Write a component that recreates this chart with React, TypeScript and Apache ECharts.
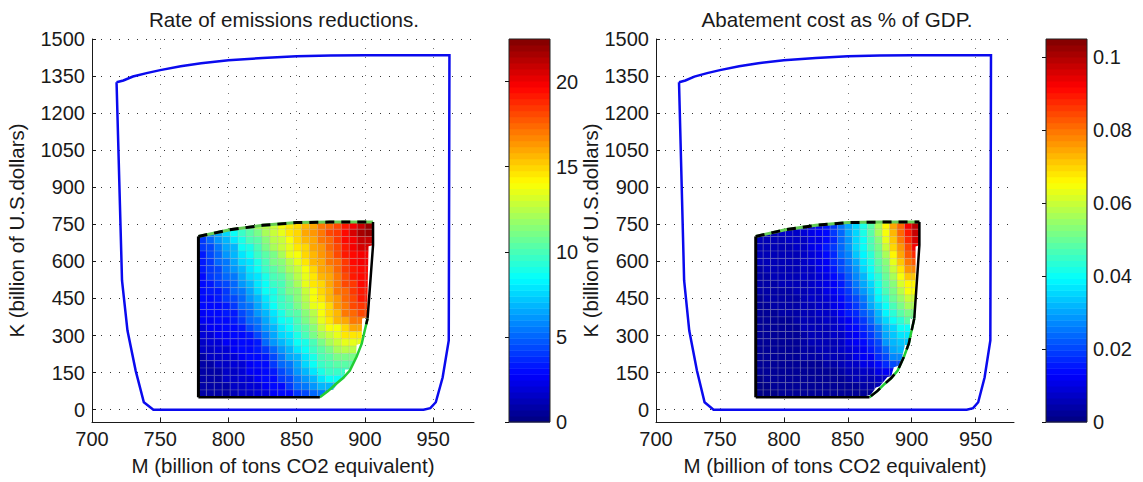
import React, { useEffect, useRef } from "react";
import * as echarts from "echarts";

const xTicks = [700, 750, 800, 850, 900, 950];
const yTicks = [0, 150, 300, 450, 600, 750, 900, 1050, 1200, 1350, 1500];
const barTicksA = [0, 5, 10, 15, 20];
const barTicksB = [0, 0.02, 0.04, 0.06, 0.08, 0.1];
const barMaxA = 22.5;
const barMaxB = 0.105;

const feasibleBoundary = [[718,1325],[723,1332],[730,1348],[740,1362],[750,1374],[765,1390],[780,1402],[800,1414],[825,1423],[850,1430],[875,1433],[900,1434],[962,1434],[961.5,280],[957,130],[952,30],[948,6],[943,0],[745,0],[738,30],[732,158],[726,320],[722,523],[718,1325]];
const topEdge = [[778,701],[801,728],[825,746],[850,757],[874,759],[906,759]];
const leftEdge = [[778,701],[778,50]];
const bottomEdge = [[778,50],[867,50]];
const upperRightEdge = [[906,759],[906,665],[902,369]];
const lowerRightEdge = [[902,369],[899.5,310],[897.7,267],[894,215],[889,158],[884,128],[879,105],[873,75],[867,50]];
const heatClipA = [[778,701],[801,728],[825,746],[850,757],[874,759],[906,759],[906,665],[902.7,661],[901.6,373],[898,369],[897.6,268],[893.9,263],[893.5,207],[892,199],[889,162],[885.5,162],[885,126],[881,113],[876.7,81],[873,77],[867,49],[778,49]];
const heatClipB = [[778,701],[801,728],[825,746],[850,757],[874,759],[906,759],[906,665],[903,660],[903,369],[898.7,369],[898.7,262],[894.7,262],[891,180],[886,172],[884,135],[881,132],[875,95],[872,90],[868,60],[860,49],[778,49]];

const gridMStart = 778;
const gridMStep = 128 / 22;
const gridKTop = 760;
const gridKStep = 710 / 24;

const emissionRate = [
[5,6,7,8,9,10,11,12,12.5,13,14,14.5,15,15.5,16,17,17.5,18,19,20,21,22],
[4.5,5.5,6.5,7.5,8.5,9.5,10.5,11,12,13,13.5,14.5,15,16,16.5,17,18,18.5,19.5,20.5,21.5,22],
[4,5,6,7,8,9,10,10.5,11.5,12.5,13,14,15,15.5,16,17,17.5,18.5,19.5,20,21,21],
[4,4.5,5.5,6.5,7,8.5,9,10,11,12,13,13.5,14.5,15,16,16.5,17.5,18,19,20,20.5,20.5],
[3.5,4.5,5,6,7,8,8.5,9.5,10.5,11,12,13.5,14,15,15.5,16.5,17,18,19,19.5,20,20],
[3.5,4,5,5.5,6.5,7.5,8,9,10,11,11.5,12.5,13.5,14.5,15.5,16,17,17.5,18.5,19.5,20,20],
[3.5,4,4.5,5.5,6,7,8,8.5,9.5,10.5,11,12,13,14,15,16,16.5,17.5,18.5,19,19.5,19.5],
[3,4,4.5,5,5.5,6.5,7.5,8,9,10,10.5,11.5,12.5,13.5,14.5,15.5,16,17,18,19,19.5,19.5],
[3,3.5,4,4.5,5,6,7,8,8.5,9.5,10,11,12,13.5,14.5,15,16,17,18,18.5,19.5,19.5],
[3,3.5,3.5,4,5,5.5,6.5,7.5,8.5,9,10,11,11.5,13,14,15,15.5,17,17.5,18.5,19,19],
[3,3,3.5,4,4.5,5,6,7,8,9,9.5,10.5,11.5,12.5,14,14.5,15.5,16.5,17.5,18,19,19],
[3,3,3,3.5,4,5,5.5,6.5,7.5,8.5,9.5,10,11,12,13.5,14,15,16.5,17,18,18.5,18.5],
[2.5,3,3,3.5,3.5,4.5,5,6,7,8,9,10,10.5,11.5,12.5,14,15,15.5,17,17.5,18,18],
[2.5,2.5,3,3,3.5,4,5,5.5,6.5,7.5,8.5,9,10,11,12,13.5,14.5,15.5,16,17,17,17],
[2,2.5,2.5,3,3,3.5,4.5,5,6,7,8,8.5,9.5,10.5,11.5,13,14,14,15,16,16,16],
[2,2,2.5,2.5,3,3,3.5,4.5,5.5,6.5,7.5,8,9,10,11,12,13,13.5,14.5,14.5,14.5,14.5],
[1.5,2,2,2.5,2.5,3,3,3.5,5,6,7,7.5,8.5,9,10,11,12,13,13.5,13.5,13.5,13.5],
[1.5,1.5,2,2,2.5,3,3,3.5,4,5,6,7,8,8.5,9.5,10.5,11,12,12.5,12.5,12.5,12.5],
[1,1.5,1.5,2,2,2.5,3,3,3.5,4.5,5.5,6.5,7,8,9,10,10.5,11,11,11,11,11],
[1,1,1.5,1.5,2,2,2.5,3,3,4,5,5.5,6.5,7.5,8.5,9.5,10,10.5,10.5,10.5,10.5,10.5],
[1,1,1,1.5,1.5,2,2.5,2.5,3,3.5,4.5,5,6,7,8,9,9.5,9.5,9.5,9.5,9.5,9.5],
[0.8,1,1,1.5,1.5,2,2,2.5,3,3,4,4.5,5.5,6,7,8,8.5,8.5,8.5,8.5,8.5,8.5],
[0.8,0.8,1,1,1.5,1.5,2,2,2.5,3,3,4,5,5.5,6,7,7,7,7,7,7,7],
[0.8,0.8,1,1,1.2,1.5,1.5,2,2,2.5,3,3,4,4.5,5,5.5,5.5,5.5,5.5,5.5,5.5,5.5],
];

const abatementCostMilli = [
[6,6,7,7,8,8,9,10,12,15,19,25,30,36,42,49,57,66,74,82,92,100],
[6,6,6,7,7,8,9,10,12,14,19,24,30,36,42,48,56,65,73,81,90,98],
[5,6,6,6,7,7,8,10,11,14,18,24,29,35,41,47,54,63,72,79,87,96],
[5,5,6,6,6,7,8,10,12,15,19,24,29,35,40,46,52,60,69,76,85,92],
[5,5,5,6,6,6,8,9,11,14,18,23,27,33,38,44,50,57,66,74,83,88],
[5,5,5,5,6,6,7,9,11,13,17,21,26,31,37,42,48,54,63,72,80,83],
[4,5,5,5,5,6,7,8,10,12,15,20,24,29,35,40,46,52,60,68,76,78],
[4,4,5,5,5,5,7,8,9,11,14,18,22,27,32,38,44,50,57,64,72,72],
[4,4,4,5,5,5,6,7,9,10,13,16,21,25,30,36,42,48,54,61,67,67],
[4,4,4,4,4,5,6,7,8,10,12,15,19,23,28,34,40,46,52,58,64,64],
[3,4,4,4,4,4,6,7,8,9,11,14,17,21,26,32,38,44,50,55,60,60],
[3,3,4,4,4,4,5,6,7,8,10,13,16,19,24,30,36,41,47,52,56,56],
[3,3,3,4,4,4,5,6,7,8,9,12,15,17,22,26,32,38,43,48,52,52],
[3,3,3,3,3,4,5,6,6,7,8,10,13,16,19,24,30,36,40,44,48,48],
[3,3,3,3,3,3,5,5,6,6,8,9,12,14,17,21,26,32,36,40,40,40],
[2,3,3,3,3,3,4,5,5,6,7,8,11,13,15,19,24,30,34,37,37,37],
[2,2,3,3,3,3,4,5,5,6,6,8,10,12,14,17,21,28,32,34,34,34],
[2,2,2,3,3,3,4,4,5,5,6,7,9,11,13,15,19,24,30,32,32,32],
[2,2,2,2,2,3,4,4,4,5,5,6,8,10,12,13,17,21,27,27,27,27],
[2,2,2,2,2,2,3,3,3,4,4,5,7,8,10,11,14,17,20,20,20,20],
[2,2,2,2,2,2,2,2,3,3,3,4,5,6,7,8,10,13,13,13,13,13],
[1,2,2,2,2,2,2,2,2,2,3,3,4,5,5,6,7,8,8,8,8,8],
[1,1,2,2,2,2,2,2,2,2,2,3,3,3,4,4,5,5,5,5,5,5],
[1,1,1,2,2,2,2,2,2,2,2,2,2,2,3,3,3,3,3,3,3,3],
];

const FONT = "Liberation Sans";
const INK = "#1a1a1a";

function jet(t: number) {
  const n = Math.min(63, Math.max(0, Math.floor(t * 64)));
  const x = (n + 0.5) / 64;
  const c = (v: number) => Math.round(255 * Math.min(1, Math.max(0, v)));
  return `rgb(${c(1.5 - Math.abs(4 * x - 3))},${c(1.5 - Math.abs(4 * x - 2))},${c(1.5 - Math.abs(4 * x - 1))})`;
}

function cells(rows: number[][], scale: number) {
  const out: number[][] = [];
  rows.forEach((row, j) =>
    row.forEach((v, i) =>
      out.push([
        gridMStart + i * gridMStep,
        gridKTop - j * gridKStep,
        gridMStart + (i + 1) * gridMStep,
        gridKTop - (j + 1) * gridKStep,
        v * scale,
      ])
    )
  );
  return out;
}

function heatSeries(idx: number, data: number[][], max: number, clip: number[][]) {
  return {
    type: "custom",
    xAxisIndex: idx,
    yAxisIndex: idx,
    clip: false,
    silent: true,
    data,
    encode: { x: [0, 2], y: [1, 3] },
    renderItem: (_: any, api: any) => {
      const a = api.coord([api.value(0), api.value(1)]);
      const b = api.coord([api.value(2), api.value(3)]);
      return {
        type: "rect",
        shape: { x: a[0], y: a[1], width: b[0] - a[0], height: b[1] - a[1] },
        style: { fill: jet(api.value(4) / max), stroke: "rgba(170,170,170,0.22)", lineWidth: 1 },
        clipPath: { type: "polygon", shape: { points: clip.map((p) => api.coord(p)) } },
      };
    },
    z: 3,
  };
}

function line(idx: number, data: number[][], color: string, width: number, type: any = "solid", z = 4) {
  return {
    type: "line",
    xAxisIndex: idx,
    yAxisIndex: idx,
    data,
    showSymbol: false,
    symbol: "none",
    silent: true,
    clip: false,
    z,
    lineStyle: { color, width, type, cap: "butt", join: "miter" },
  };
}

function barSeries(idx: number, max: number) {
  const levels = Array.from({ length: 64 }, (_, i) => [i]);
  return {
    type: "custom",
    xAxisIndex: idx,
    yAxisIndex: idx,
    silent: true,
    data: levels,
    encode: { x: [], y: [] },
    renderItem: (_: any, api: any) => {
      const i = api.value(0);
      const a = api.coord([0, ((i + 1) * max) / 64]);
      const b = api.coord([1, (i * max) / 64]);
      return {
        type: "rect",
        shape: { x: a[0], y: a[1], width: b[0] - a[0], height: b[1] - a[1] + 0.5 },
        style: { fill: jet((i + 0.5) / 64) },
      };
    },
  };
}

function mainX(gridIndex: number) {
  return {
    type: "value",
    gridIndex,
    min: 700,
    max: 980,
    name: "M (billion of tons CO2 equivalent)",
    nameLocation: "middle",
    nameGap: 33,
    nameTextStyle: { fontFamily: FONT, fontSize: 20.5, color: INK },
    axisLine: { onZero: false, lineStyle: { color: INK, width: 1 } },
    axisTick: { inside: true, length: 4, customValues: xTicks, lineStyle: { color: INK } },
    axisLabel: { customValues: xTicks, formatter: (v: number) => String(v), fontFamily: FONT, fontSize: 20, color: INK, margin: 7 },
    splitLine: { show: true, lineStyle: { color: "#777", width: 1, type: [1, 8] } },
  };
}

function mainY(gridIndex: number, nameGap: number) {
  return {
    type: "value",
    gridIndex,
    min: -50,
    max: 1500,
    name: "K (billion of U.S.dollars)",
    nameLocation: "middle",
    nameGap,
    nameTextStyle: { fontFamily: FONT, fontSize: 20.5, color: INK },
    axisLine: { show: true, onZero: false, lineStyle: { color: INK, width: 1 } },
    axisTick: { inside: true, length: 4, customValues: yTicks, lineStyle: { color: INK } },
    axisLabel: { customValues: yTicks, formatter: (v: number) => String(v), fontFamily: FONT, fontSize: 20, color: INK, margin: 7 },
    splitLine: { show: true, lineStyle: { color: "#333", width: 1, type: [1, 8] } },
  };
}

function barX(gridIndex: number) {
  return { type: "value", gridIndex, min: 0, max: 1, show: false };
}

function barY(gridIndex: number, max: number, ticks: number[]) {
  return {
    type: "value",
    gridIndex,
    min: 0,
    max,
    position: "right",
    axisLine: { show: false },
    splitLine: { show: false },
    axisTick: { show: true, inside: true, length: 4, customValues: ticks, lineStyle: { color: "#111" } },
    axisLabel: { customValues: ticks, formatter: (v: number) => String(v), fontFamily: FONT, fontSize: 20, color: INK, margin: 6 },
  };
}

export default function App() {
  const ref = useRef<HTMLDivElement>(null);
  useEffect(() => {
    const chart = echarts.init(ref.current!, undefined, { renderer: "svg" });
    const dataA = cells(emissionRate, 1);
    const dataB = cells(abatementCostMilli, 0.001);
    const outline = (i: number, heavyLower: boolean) => [
      line(i, feasibleBoundary, "#0a0aee", 2.5),
      line(i, topEdge, "#66cc55", 3, "solid", 5),
      line(i, topEdge, "#000", 3, [9, 7], 6),
      line(i, leftEdge, "#000", 3, "solid", 6),
      line(i, bottomEdge, "#000", 2.5, "solid", 6),
      line(i, upperRightEdge, "#000", 2.5, "solid", 6),
      line(i, lowerRightEdge, "#22cc33", 2.5, "solid", 5),
      line(i, lowerRightEdge, "#000", 2.5, heavyLower ? [12, 8] : [6, 90], 6),
    ];
    chart.setOption({
      animation: false,
      backgroundColor: "#fff",
      title: [
        { text: "Rate of emissions reductions.", left: 279, top: 4, textAlign: "center", textStyle: { fontFamily: FONT, fontSize: 20.6, fontWeight: "normal", color: INK } },
        { text: "Abatement cost as % of GDP.", left: 832, top: 4, textAlign: "center", textStyle: { fontFamily: FONT, fontSize: 20.6, fontWeight: "normal", color: INK } },
      ],
      grid: [
        { left: 92, top: 39, width: 382, height: 383 },
        { left: 656, top: 39, width: 358, height: 383 },
        { left: 509, top: 39, width: 41, height: 383, show: true, borderColor: "#222", borderWidth: 1, backgroundColor: "transparent", z: 5 },
        { left: 1046, top: 39, width: 41, height: 383, show: true, borderColor: "#222", borderWidth: 1, backgroundColor: "transparent", z: 5 },
      ],
      xAxis: [mainX(0), mainX(1), barX(2), barX(3)],
      yAxis: [mainY(0, 65), mainY(1, 55), barY(2, barMaxA, barTicksA), barY(3, barMaxB, barTicksB)],
      series: [
        heatSeries(0, dataA, barMaxA, heatClipA),
        heatSeries(1, dataB, barMaxB, heatClipB),
        ...outline(0, false),
        ...outline(1, true),
        barSeries(2, barMaxA),
        barSeries(3, barMaxB),
      ],
    });
    return () => chart.dispose();
  }, []);
  return <div ref={ref} style={{ position: "absolute", left: 0, top: 0, width: 1143, height: 482 }} />;
}
